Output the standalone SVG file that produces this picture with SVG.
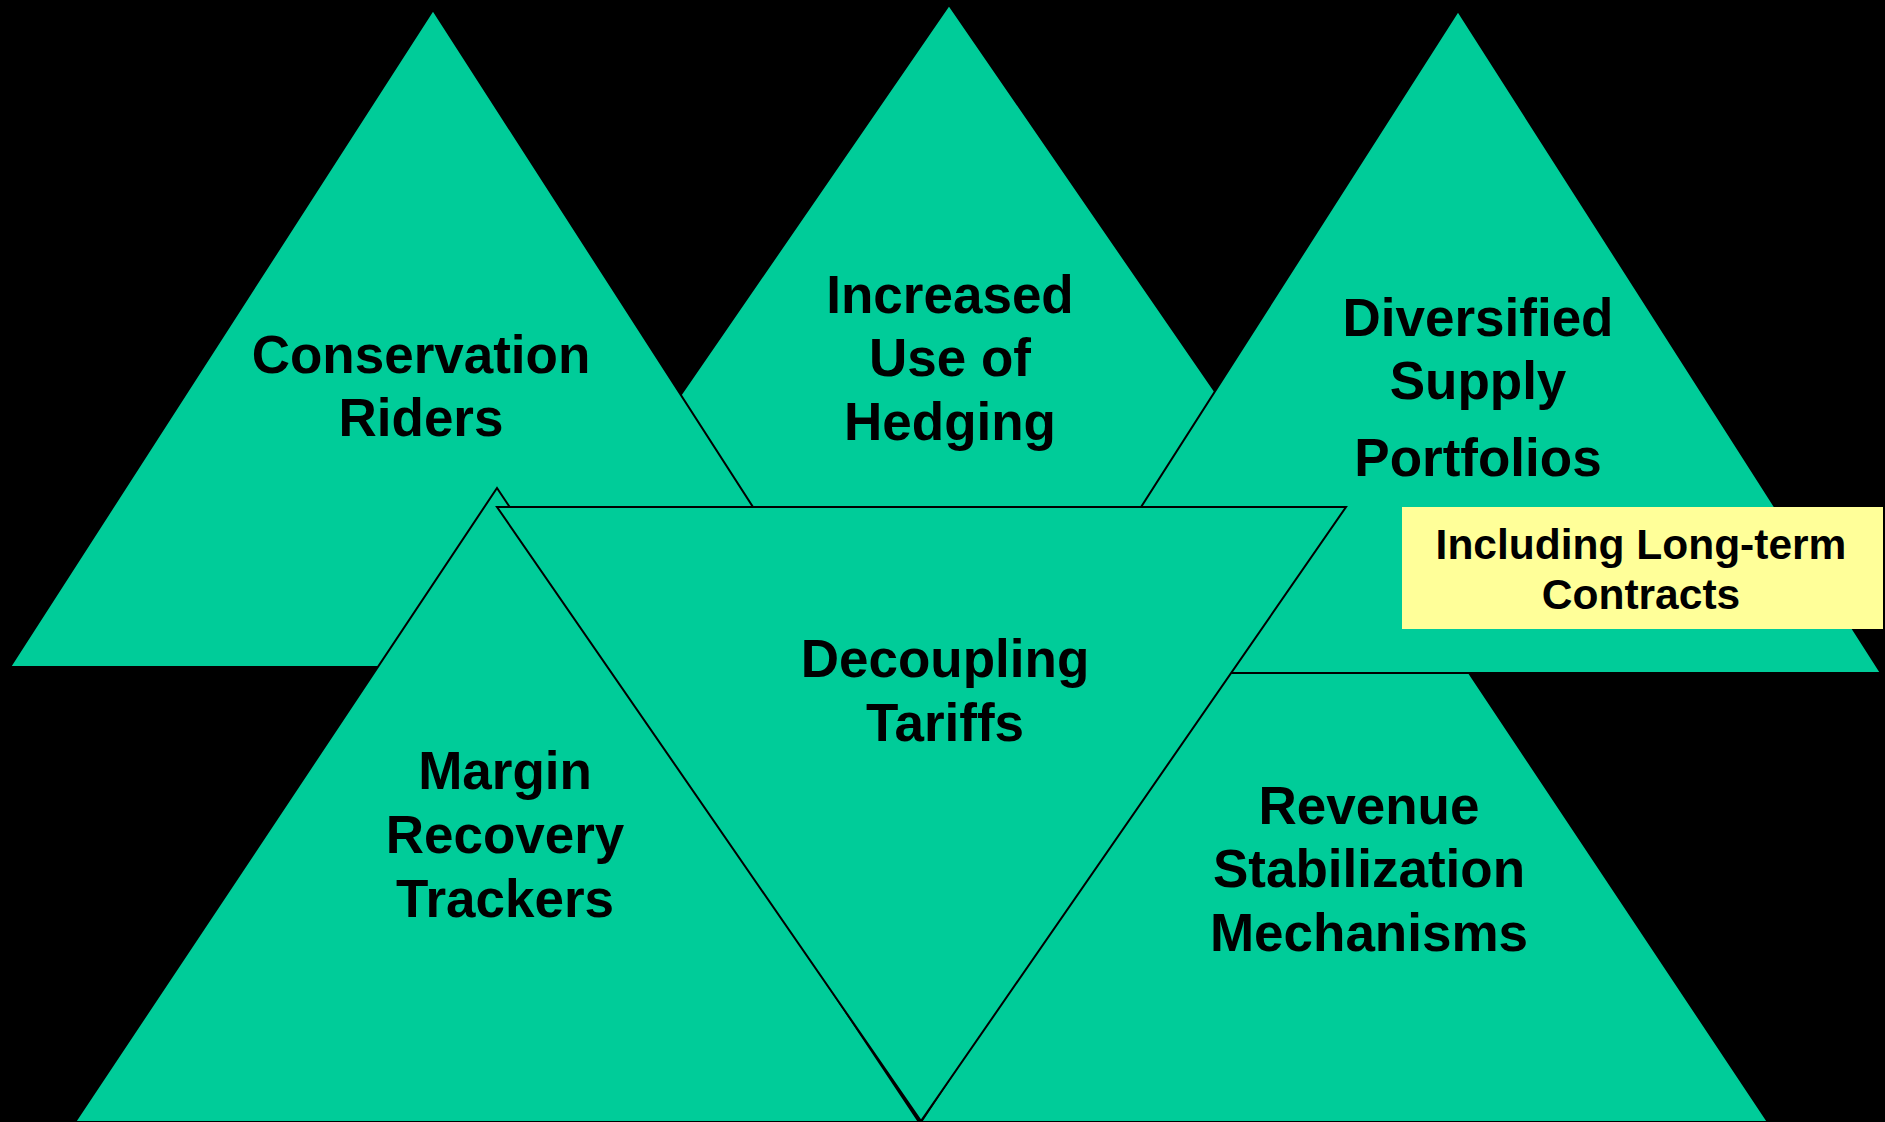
<svg xmlns="http://www.w3.org/2000/svg" width="1885" height="1122" viewBox="0 0 1885 1122">
<style>
.tri{fill:#00CC99;stroke:#000;stroke-width:2;stroke-linejoin:miter}
.t{font-family:"Liberation Sans",Arial,sans-serif;font-weight:bold;font-size:53px;fill:#000;text-anchor:middle}
.s{font-family:"Liberation Sans",Arial,sans-serif;font-weight:bold;font-size:42.5px;fill:#000;text-anchor:middle}
</style>
<rect width="1885" height="1122" fill="#000"/>
<g id="revenue">
<polygon class="tri" points="1344,485 1768,1122 921,1122"/>
</g>
<g id="hedging">
<polygon class="tri" points="949,5 1386,640 512,640"/>
</g>
<g id="conservation">
<polygon class="tri" points="433,10 856,667 10,667"/>
</g>
<g id="diversified">
<polygon class="tri" points="1458,11 1881,673 1035,673"/>
</g>
<g id="margin">
<polygon class="tri" points="497,488 919,1122 75,1122"/>
</g>
<g id="decoupling">
<polygon class="tri" points="497,507 1346,507 921,1121"/>
</g>
<g id="note">
<rect x="1402" y="507" width="481" height="122" fill="#FFFF99"/>
<text class="s" x="1641" y="559">Including Long-term</text>
<text class="s" x="1641" y="609">Contracts</text>
</g>
<g id="labels">
<text class="t" x="421" y="373">Conservation</text>
<text class="t" x="421" y="436">Riders</text>
<text class="t" x="950" y="313">Increased</text>
<text class="t" x="950" y="376">Use of</text>
<text class="t" x="950" y="440">Hedging</text>
<text class="t" x="1478" y="336">Diversified</text>
<text class="t" x="1478" y="399">Supply</text>
<text class="t" x="1478" y="476">Portfolios</text>
<text class="t" x="945" y="677">Decoupling</text>
<text class="t" x="945" y="741">Tariffs</text>
<text class="t" x="505" y="789">Margin</text>
<text class="t" x="505" y="853">Recovery</text>
<text class="t" x="505" y="917">Trackers</text>
<text class="t" x="1369" y="824">Revenue</text>
<text class="t" x="1369" y="887">Stabilization</text>
<text class="t" x="1369" y="951">Mechanisms</text>
</g>
<g id="connectors"></g>
</svg>
